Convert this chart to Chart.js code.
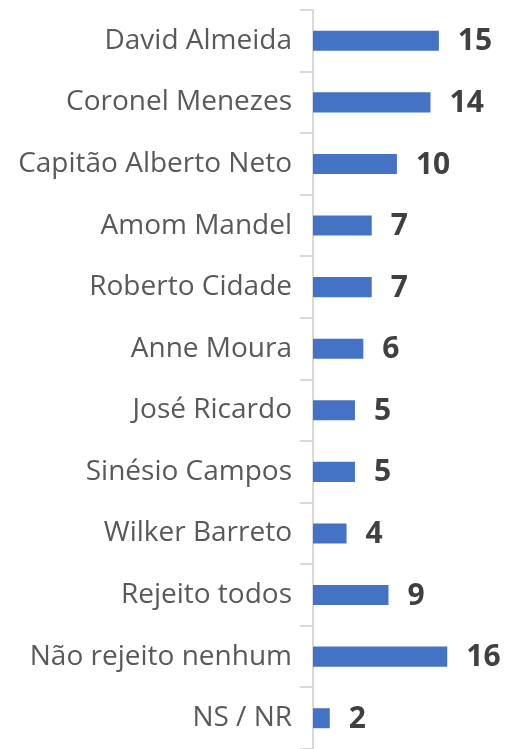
<!DOCTYPE html>
<html>
<head>
<meta charset="utf-8">
<script src="https://cdn.jsdelivr.net/npm/chart.js@4.4.0/dist/chart.umd.min.js"></script>
<style>
  html, body { margin: 0; padding: 0; background: #fff; }
  #wrap { width: 510px; height: 749px; position: relative; }
</style>
</head>
<body>
<div id="wrap"><canvas id="rejChart"></canvas></div>
<script>
// Rejeição por candidato (%)
var candidatos = ['David Almeida', 'Coronel Menezes', 'Capitão Alberto Neto', 'Amom Mandel',
    'Roberto Cidade', 'Anne Moura', 'José Ricardo', 'Sinésio Campos', 'Wilker Barreto',
    'Rejeito todos', 'Não rejeito nenhum', 'NS / NR'];
var valores = [15, 14, 10, 7, 7, 6, 5, 5, 4, 9, 16, 2];

// escreve o valor ao lado de cada barra
var rotulosValor = {
    id: 'rotulosValor',
    afterDatasetsDraw: function (chart) {
        var ctx = chart.ctx;
        var meta = chart.getDatasetMeta(0);
        ctx.save();
        ctx.font = 'bold 30px "Open Sans", sans-serif';
        ctx.fillStyle = '#404040';
        ctx.textAlign = 'left';
        ctx.textBaseline = 'middle';
        meta.data.forEach(function (bar, i) {
            ctx.fillText(String(chart.data.datasets[0].data[i]), bar.x + 19, bar.y + 1);
        });
        ctx.restore();
    }
};

var ctx = document.getElementById('rejChart').getContext('2d');
var rejChart = new Chart(ctx, {
    type: 'bar',
    data: {
        labels: candidatos,
        datasets: [{
            data: valores,
            backgroundColor: '#4472C4',
            barPercentage: 0.325,
            categoryPercentage: 1
        }]
    },
    options: {
        indexAxis: 'y',
        responsive: true,
        maintainAspectRatio: false,
        animation: false,
        layout: { padding: { top: 10, right: 4, bottom: -3, left: 0 } },
        plugins: {
            legend: { display: false },
            tooltip: { enabled: false }
        },
        scales: {
            x: {
                display: false,
                min: 0,
                max: 23
            },
            y: {
                afterFit: function (scale) {
                    scale.width = 313;
                    scale.paddingTop = 0;
                    scale.paddingBottom = 0;
                },
                border: { display: true, color: '#d9d9d9', width: 2 },
                grid: {
                    drawOnChartArea: false,
                    drawTicks: true,
                    tickLength: 13,
                    color: '#d9d9d9',
                    lineWidth: 2
                },
                ticks: {
                    color: '#595959',
                    padding: 8,
                    font: { family: '"Open Sans", sans-serif', size: 28, lineHeight: 0.05 }
                }
            }
        }
    },
    plugins: [rotulosValor]
});
</script>
</body>
</html>
